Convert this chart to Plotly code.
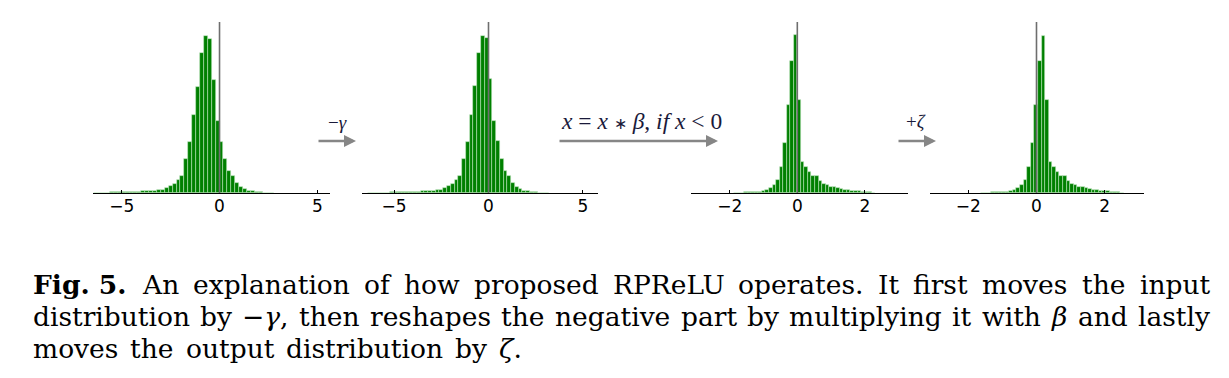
import re
import numpy as np
import plotly.graph_objects as go

# page body has an 8px margin, so the figure is drawn 8px smaller and all
# reference pixel positions are shifted by that offset
OFF = 8
W, H = 1229 - OFF, 378 - OFF

def px_x(px):
    return (px - OFF) / W

def px_y(py):
    return 1 - (py - OFF) / H

# ---------------- data ----------------
# Panel 1: input distribution
p1_first_edge = -6.4
p1_bin_width = 0.2
p1_counts = [0, 1, 1, 1, 2, 2, 2, 3, 2, 3, 3, 4, 5, 6, 6, 7, 9, 10, 14, 21, 27, 39,
             52, 102, 154, 234, 319, 421, 471, 464, 339, 217, 154, 102, 66, 52, 31,
             19, 11, 6, 5, 3, 2, 1, 1, 0]
p1_ticks = [-5, 0, 5]
p1_ticktext = ["\u22125", "0", "5"]
p1_range = [-6.47, 5.65]

# Panel 2: after shifting by -gamma
p2_first_edge = -6.4
p2_bin_width = 0.2
p2_counts = [0, 1, 1, 1, 1, 1, 2, 2, 2, 3, 2, 3, 3, 4, 5, 6, 6, 7, 9, 10, 14, 21,
             27, 39, 52, 102, 154, 234, 322, 422, 472, 466, 342, 217, 155, 102, 66,
             52, 31, 19, 11, 6, 5, 3, 2, 1, 1, 0]
p2_ticks = [-5, 0, 5]
p2_ticktext = ["\u22125", "0", "5"]
p2_range = [-6.7, 5.8]

# Panel 3: negative part multiplied by beta
p3_first_edge = -1.89
p3_bin_width = 0.105
p3_counts = [1, 1, 1, 2, 2, 3, 3, 4, 5, 9, 15, 24, 39, 77, 149, 266, 397, 474,
             281, 94, 79, 64, 52, 51, 37, 28, 23, 19, 17, 14, 12, 9, 8, 7, 5, 5,
             4, 3, 2, 1]
p3_ticks = [-2, 0, 2]
p3_ticktext = ["\u22122", "0", "2"]
p3_range = [-3.15, 3.28]

# Panel 4: after shifting by zeta
p4_first_edge = -1.638
p4_bin_width = 0.105
p4_counts = [1, 1, 1, 2, 2, 3, 3, 4, 5, 9, 15, 24, 39, 77, 149, 266, 397, 473,
             281, 94, 77, 64, 52, 50, 37, 28, 23, 19, 17, 14, 12, 9, 8, 7, 5, 5,
             4, 3, 2, 1]
p4_ticks = [-2, 0, 2]
p4_ticktext = ["\u22122", "0", "2"]
p4_range = [-3.12, 3.15]

arrow_labels = ["\u2212<i>\u03b3</i>",
                "<i>x</i> = <i>x</i> <span style=\"font-size:16px\">\u2217</span> <i>\u03b2</i>, <i>if x</i> &lt; 0",
                "+<i>\u03b6</i>"]

caption_line1 = ["<b>Fig. 5.</b>", "An", "explanation", "of", "how", "proposed",
                 "RPReLU", "operates.", "It", "first", "moves", "the", "input"]
caption_line2 = ["distribution", "by", "\u2212<i>\u03b3</i>,", "then", "reshapes", "the",
                 "negative", "part", "by", "multiplying", "it", "with", "<i>\u03b2</i>",
                 "and", "lastly"]
caption_line3 = ["moves", "the", "output", "distribution", "by", "<i>\u03b6</i>."]

# ---------------- text measuring (approx. DejaVu Serif advances, em) ----------------
ADV = {
    'a': .596, 'b': .640, 'c': .560, 'd': .640, 'e': .592, 'f': .370, 'g': .640,
    'h': .644, 'i': .320, 'j': .310, 'k': .606, 'l': .320, 'm': .948, 'n': .644,
    'o': .602, 'p': .640, 'q': .640, 'r': .478, 's': .513, 't': .402, 'u': .644,
    'v': .565, 'w': .856, 'x': .564, 'y': .565, 'z': .527,
    'A': .722, 'F': .698, 'I': .372, 'L': .653, 'P': .673, 'R': .726, 'U': .812,
    '.': .318, ',': .318, ' ': .318, '5': .636,
    '\u2212': .838, '\u03b3': .60, '\u03b2': .64, '\u03b6': .50,
}

def word_em(word):
    bold = "<b>" in word
    plain = re.sub(r"<[^>]+>", "", word)
    w = sum(ADV.get(c, .6) for c in plain)
    return w * (1.1 if bold else 1.0)

# ---------------- layout geometry (reference pixels) ----------------
panel_px = [(93, 330), (362, 598), (691, 908), (930, 1144)]
axis_y_px, top_px = 193, 22
y_dom = [px_y(axis_y_px), px_y(top_px)]
y_max = 514

panels = [
    (p1_first_edge, p1_bin_width, p1_counts, p1_ticks, p1_ticktext, p1_range),
    (p2_first_edge, p2_bin_width, p2_counts, p2_ticks, p2_ticktext, p2_range),
    (p3_first_edge, p3_bin_width, p3_counts, p3_ticks, p3_ticktext, p3_range),
    (p4_first_edge, p4_bin_width, p4_counts, p4_ticks, p4_ticktext, p4_range),
]

fig = go.Figure()
shapes = []
layout_axes = {}
for i, (e0, bw, counts, tv, tt, rng) in enumerate(panels):
    n = i + 1
    xs = "" if n == 1 else str(n)
    centers = e0 + bw * (np.arange(len(counts)) + 0.5)
    fig.add_trace(go.Bar(
        x=centers, y=counts, width=bw,
        marker=dict(color="#008000", line=dict(color="rgba(200,235,200,0.75)", width=0.7)),
        xaxis="x" + xs, yaxis="y" + xs, showlegend=False, hoverinfo="skip"))
    x0p, x1p = panel_px[i]
    layout_axes["xaxis" + xs] = dict(
        domain=[px_x(x0p), px_x(x1p)], range=rng, anchor="y" + xs,
        showgrid=False, zeroline=False, showline=True, linecolor="black", linewidth=1,
        ticks="inside", ticklen=3, tickwidth=1, tickcolor="black",
        tickvals=tv, ticktext=tt, fixedrange=True, ticklabelstandoff=-2,
        tickfont=dict(family="DejaVu Sans", size=17, color="black"))
    layout_axes["yaxis" + xs] = dict(
        domain=y_dom, range=[0, y_max], anchor="x" + xs, visible=False, fixedrange=True)
    shapes.append(dict(type="line", xref="x" + xs, yref=("y" + xs + " domain") if xs else "y domain",
                       x0=0, x1=0, y0=0, y1=1, line=dict(color="#6e6e6e", width=1.6),
                       layer="above"))

annotations = []
# arrows (tail px, head px, y px) and labels (center x px, y px, size)
arrow_geo = [(317, 356, 141), (558, 718, 141), (897, 936, 141)]
label_geo = [(337, 123, 19), (641, 121, 23.5), (916, 121, 19)]
for (xa, xb, ya), (lx, ly, fs), txt in zip(arrow_geo, label_geo, arrow_labels):
    annotations.append(dict(
        x=px_x(xb), y=px_y(ya), xref="paper", yref="paper", text="",
        showarrow=True, ax=-(xb - xa), ay=0, axref="pixel", ayref="pixel",
        arrowhead=2, arrowsize=1, arrowwidth=2.4, arrowcolor="#868686", standoff=0))
    annotations.append(dict(
        x=px_x(lx), y=px_y(ly), xref="paper", yref="paper", text=txt, showarrow=False,
        xanchor="center", yanchor="middle",
        font=dict(family="Liberation Serif", size=fs, color="#1a1a3a")))

# caption: words spread (justified) between a left and a right edge, like LaTeX
cap_size = 26.5
cap_lines = [(caption_line1, 33, 1210, 284),
             (caption_line2, 33, 1210, 316),
             (caption_line3, 33, 521, 348)]
for words, xl, xr, cy in cap_lines:
    widths = [word_em(w) * cap_size for w in words]
    gap = (xr - xl - sum(widths)) / (len(words) - 1)
    x = xl
    for w, wd in zip(words, widths):
        annotations.append(dict(
            x=px_x(x), y=px_y(cy), xref="paper", yref="paper", text=w,
            showarrow=False, xanchor="left", yanchor="middle", xshift=-2,
            font=dict(family="DejaVu Serif", size=cap_size, color="black")))
        x += wd + gap

fig.update_layout(
    width=W, height=H, margin=dict(l=0, r=0, t=0, b=0),
    paper_bgcolor="white", plot_bgcolor="white",
    bargap=0, shapes=shapes, annotations=annotations, **layout_axes)

fig.write_html("out.html", config={"displayModeBar": False})
